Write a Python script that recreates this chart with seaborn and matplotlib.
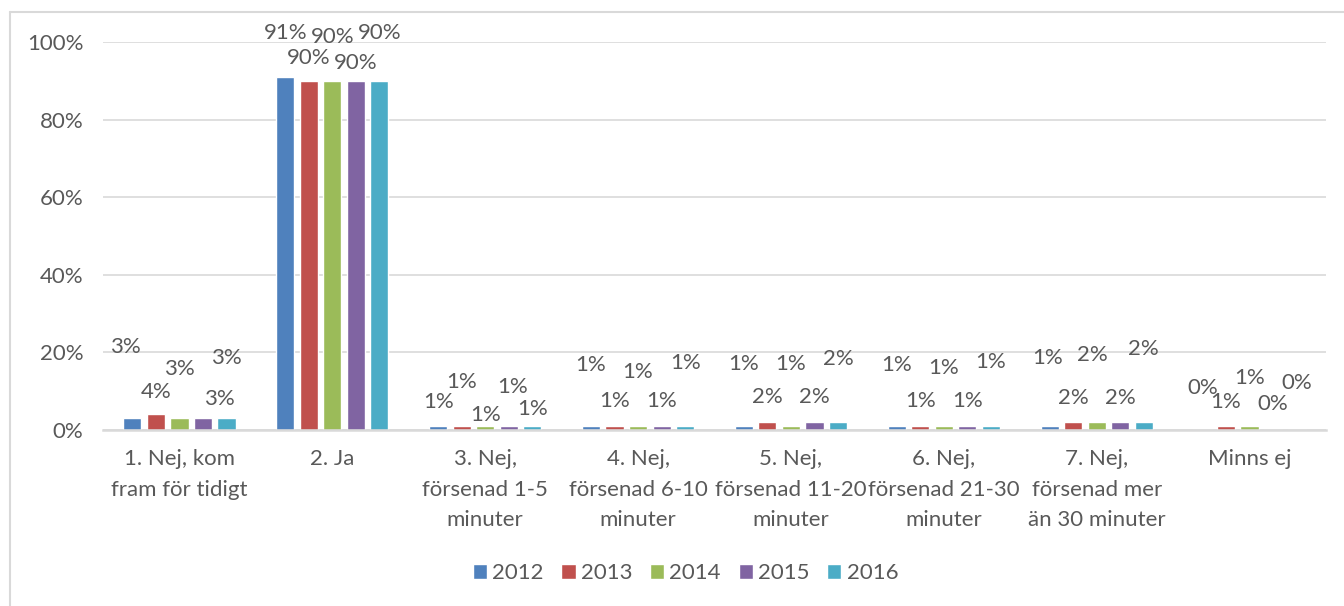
import numpy as np
import pandas as pd
import matplotlib
matplotlib.use("Agg")
import matplotlib.pyplot as plt
from matplotlib.lines import Line2D
import seaborn as sns

# Data (percent)
categories = [
    "1. Nej, kom\nfram för tidigt",
    "2. Ja",
    "3. Nej,\nförsenad 1-5\nminuter",
    "4. Nej,\nförsenad 6-10\nminuter",
    "5. Nej,\nförsenad 11-20\nminuter",
    "6. Nej,\nförsenad 21-30\nminuter",
    "7. Nej,\nförsenad mer\nän 30 minuter",
    "Minns ej",
]
years = ["2012", "2013", "2014", "2015", "2016"]
v2012 = [3, 91, 1, 1, 1, 1, 1, 0]
v2013 = [4, 90, 1, 1, 2, 1, 2, 1]
v2014 = [3, 90, 1, 1, 1, 1, 2, 1]
v2015 = [3, 90, 1, 1, 2, 1, 2, 0]
v2016 = [3, 90, 1, 1, 2, 1, 2, 0]

colors = ["#4F81BD", "#C0504D", "#9BBB59", "#8064A2", "#4BACC6"]

# label placement (pixels above bar top), one row per category, one column per year
label_dy = [
    [71, 22, 49, 19, 60],
    [44, 23, 44, 18, 48],
    [24, 44, 11, 39, 17],
    [61, 25, 54, 25, 63],
    [62, 25, 62, 25, 63],
    [61, 25, 58, 25, 64],
    [68, 24, 67, 24, 73],
    [42, 24, 48, 26, 47],
]
label_dx = [
    [-7, 0, 0, 16, 0],
    [0, 0, 0, 0, 0],
    [0, 0, 0, 4, 0],
    [0, 0, 0, 0, 0],
    [0, 0, 0, 0, 0],
    [0, 0, 0, 0, 0],
    [-2, 0, -4, 0, 0],
    [0, 0, 0, 0, 0],
]

series = [v2012, v2013, v2014, v2015, v2016]
df = pd.DataFrame({
    "kategori": categories * len(years),
    "år": np.repeat(years, len(categories)),
    "andel": np.concatenate(series),
})

sns.set_style("white")
plt.rcParams["font.family"] = ["Lato", "DejaVu Sans"]
txt = "#595959"
grid = "#D9D9D9"
fs = 16

fig = plt.figure(figsize=(13.44, 6.06), dpi=100)
ax = fig.add_axes([103 / 1344, 1 - 430 / 606, 1223 / 1344, 388 / 606])

sns.barplot(data=df, x="kategori", y="andel", hue="år", order=categories,
            hue_order=years, palette=colors, width=0.77, gap=0.23,
            saturation=1, ax=ax, legend=True)

ax.set_ylim(0, 100)
ax.set_yticks(range(0, 101, 20))
ax.set_yticklabels([f"{t}%" for t in range(0, 101, 20)])
ax.set_xlabel("")
ax.set_ylabel("")
ax.yaxis.grid(True, color=grid, lw=1.2)
ax.set_axisbelow(True)
for s in ["top", "right", "left"]:
    ax.spines[s].set_visible(False)
ax.spines["bottom"].set_color(grid)
ax.spines["bottom"].set_linewidth(1.8)
ax.tick_params(axis="both", length=0, colors=txt, labelsize=fs)
ax.tick_params(axis="y", pad=14)
ax.tick_params(axis="x", pad=14)
for lab in ax.get_xticklabels():
    lab.set_linespacing(1.65)
    lab.set_verticalalignment("top")

# data labels
for i, cont in enumerate(ax.containers):
    for j, bar in enumerate(cont):
        h = bar.get_height()
        ax.annotate(f"{h:.0f}%", (bar.get_x() + bar.get_width() / 2, h),
                    xytext=(label_dx[j][i], label_dy[j][i]),
                    textcoords="offset pixels", ha="center", va="center",
                    fontsize=fs, color=txt, annotation_clip=False)

handles, labels = ax.get_legend_handles_labels()
ax.legend(handles, labels, loc="center", bbox_to_anchor=(0.51, 1 - 573 / 606),
          bbox_transform=fig.transFigure, ncol=5, frameon=False,
          fontsize=fs, labelcolor=txt, handlelength=0.64, handleheight=0.64,
          handletextpad=0.23, columnspacing=0.8)

# chart area border (left and top visible)
fig.add_artist(Line2D([10 / 1344, 10 / 1344], [0, 1 - 12 / 606],
                      transform=fig.transFigure, color=grid, lw=1.5))
fig.add_artist(Line2D([10 / 1344, 1], [1 - 12 / 606, 1 - 12 / 606],
                      transform=fig.transFigure, color=grid, lw=1.5))

fig.savefig("out.png", dpi=100)
